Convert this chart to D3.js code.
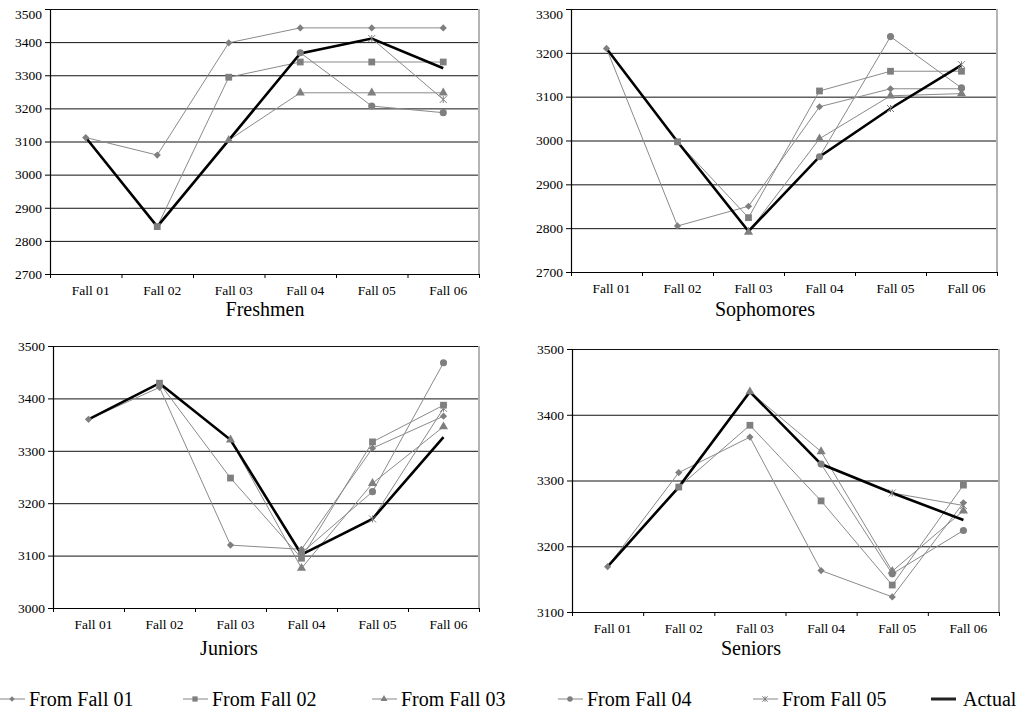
<!DOCTYPE html>
<html>
<head>
<meta charset="utf-8">
<script src="https://cdn.jsdelivr.net/npm/d3@7"></script>
<style>
  html, body { margin: 0; padding: 0; background: #fff; }
  svg { display: block; }
  svg text { font-family: "Liberation Serif", "Times New Roman", serif; }
</style>
</head>
<body>
<svg id="chart" width="1026" height="715"></svg>
<script>
// ---- data ----------------------------------------------------------------
const categories = ["Fall 01", "Fall 02", "Fall 03", "Fall 04", "Fall 05", "Fall 06"];
const seriesNames = ["From Fall 01", "From Fall 02", "From Fall 03", "From Fall 04", "From Fall 05", "Actual"];

// Freshmen
const freshmenTicks = [2700, 2800, 2900, 3000, 3100, 3200, 3300, 3400, 3500];
const freshmenActual = [3112, 2843, 3104, 3366, 3411, 3321];
const freshmenFrom = [
  [3112, 3059, 3398, 3443, 3443, 3443],
  [null, 2843, 3294, 3340, 3340, 3340],
  [null, null, 3104, 3247, 3247, 3247],
  [null, null, null, 3368, 3207, 3187],
  [null, null, null, null, 3411, 3227]
];

// Sophomores
const sophomoresTicks = [2700, 2800, 2900, 3000, 3100, 3200, 3300];
const sophomoresActual = [3210, 2997, 2793, 2963, 3073, 3172];
const sophomoresFrom = [
  [3210, 2805, 2850, 3077, 3118, 3118],
  [null, 2997, 2824, 3113, 3158, 3158],
  [null, null, 2791, 3004, 3102, 3107],
  [null, null, null, 2963, 3237, 3120],
  [null, null, null, null, 3073, 3173]
];

// Juniors
const juniorsTicks = [3000, 3100, 3200, 3300, 3400, 3500];
const juniorsActual = [3360, 3429, 3321, 3102, 3170, 3326];
const juniorsFrom = [
  [3360, 3421, 3120, 3112, 3305, 3366],
  [null, 3429, 3248, 3095, 3317, 3387],
  [null, null, 3321, 3076, 3238, 3346],
  [null, null, null, 3105, 3222, 3468],
  [null, null, null, null, 3170, 3381]
];

// Seniors
const seniorsTicks = [3100, 3200, 3300, 3400, 3500];
const seniorsActual = [3169, 3290, 3435, 3325, 3281, 3240];
const seniorsFrom = [
  [3169, 3312, 3366, 3163, 3123, 3266],
  [null, 3290, 3384, 3269, 3141, 3293],
  [null, null, 3435, 3344, 3162, 3254],
  [null, null, null, 3325, 3158, 3224],
  [null, null, null, null, 3281, 3262]
];

// ---- layout ----------------------------------------------------------------
const panels = [
  { title: "Freshmen",   ticks: freshmenTicks,   actual: freshmenActual,   from: freshmenFrom,
    x0: 50,  x1: 479, y0: 9,   y1: 274, tx: 265, ty: 316 },
  { title: "Sophomores", ticks: sophomoresTicks, actual: sophomoresActual, from: sophomoresFrom,
    x0: 571, x1: 997, y0: 9,   y1: 272, tx: 765, ty: 316 },
  { title: "Juniors",    ticks: juniorsTicks,    actual: juniorsActual,    from: juniorsFrom,
    x0: 53,  x1: 479, y0: 346, y1: 608, tx: 229, ty: 655 },
  { title: "Seniors",    ticks: seniorsTicks,    actual: seniorsActual,    from: seniorsFrom,
    x0: 572, x1: 999, y0: 349, y1: 612, tx: 751, ty: 655 }
];

const SERIF = "'Liberation Serif', 'Times New Roman', serif";
const GRAY_LINE = "#8a8a8a";
const GRAY_MARK = "#7f7f7f";

// marker shapes for the five projection series
const asteriskType = {
  draw(ctx, size) {
    const r = Math.sqrt(size) / 2;
    ctx.moveTo(-r, -r); ctx.lineTo(r, r);
    ctx.moveTo(-r, r);  ctx.lineTo(r, -r);
    ctx.moveTo(0, -r);  ctx.lineTo(0, r);
  }
};
const markers = [
  { type: d3.symbolSquare,   size: 26, rotate: 45, stroked: false },
  { type: d3.symbolSquare,   size: 46, rotate: 0,  stroked: false },
  { type: d3.symbolTriangle, size: 36, rotate: 0,  stroked: false },
  { type: d3.symbolCircle,   size: 40, rotate: 0,  stroked: false },
  { type: asteriskType,      size: 49, rotate: 0,  stroked: true }
];

function drawMarker(g, m, cx, cy, scale) {
  const p = d3.symbol().type(m.type).size(m.size * (scale || 1))();
  const el = g.append("path")
    .attr("d", p)
    .attr("transform", `translate(${cx},${cy}) rotate(${m.rotate})`);
  if (m.stroked) {
    el.attr("fill", "none").attr("stroke", GRAY_MARK).attr("stroke-width", 1);
  } else {
    el.attr("fill", GRAY_MARK).attr("stroke", "none");
  }
}

const svg = d3.select("#chart");
svg.append("rect").attr("width", 1026).attr("height", 715).attr("fill", "#fff");

panels.forEach(p => {
  const g = svg.append("g");
  const x = d3.scaleBand().domain(categories).range([p.x0, p.x1]).padding(0);
  const xEdge = d3.scaleLinear().domain([0, categories.length]).range([p.x0, p.x1]);
  const y = d3.scaleLinear().domain(d3.extent(p.ticks)).range([p.y1, p.y0]);
  const cx = c => x(c) + x.bandwidth() / 2;

  // horizontal gridlines
  const grid = g.append("g")
    .attr("transform", `translate(${p.x0},0)`)
    .call(d3.axisLeft(y).tickValues(p.ticks.slice(1)).tickSize(-(p.x1 - p.x0)).tickFormat(""));
  grid.select(".domain").remove();
  grid.selectAll("line").attr("stroke", "#111").attr("stroke-width", 1);

  // right border of the plot area
  g.append("line")
    .attr("x1", p.x1).attr("x2", p.x1).attr("y1", p.y0).attr("y2", p.y1)
    .attr("stroke", "#b4b4b4").attr("stroke-width", 2);

  // y axis
  const ya = g.append("g")
    .attr("transform", `translate(${p.x0},0)`)
    .call(d3.axisLeft(y).tickValues(p.ticks).tickSize(5).tickSizeOuter(0).tickPadding(3).tickFormat(d3.format("d")));
  ya.attr("font-family", null).attr("font-size", null);
  ya.select(".domain").attr("stroke", "#000").attr("stroke-width", 1.2);
  ya.selectAll("line").attr("stroke", "#000");
  ya.selectAll("text")
    .style("font-family", SERIF)
    .style("font-size", "13.5px").attr("fill", "#000")
    .attr("y", function(d) { return Math.max(0, 14 - y(d)); });

  // x axis line with boundary ticks
  const xa = g.append("g")
    .attr("transform", `translate(0,${p.y1})`)
    .call(d3.axisBottom(xEdge).tickValues(d3.range(categories.length + 1)).tickSize(4).tickSizeOuter(0).tickFormat(""));
  xa.select(".domain").attr("stroke", "#000").attr("stroke-width", 1.2);
  xa.selectAll("line").attr("stroke", "#000");

  // category labels
  const xl = g.append("g")
    .attr("transform", `translate(5,${p.y1})`)
    .call(d3.axisBottom(x).tickSize(0).tickPadding(11));
  xl.attr("font-family", null).attr("font-size", null);
  xl.select(".domain").remove();
  xl.selectAll("text")
    .style("font-family", SERIF)
    .style("font-size", "13.5px").attr("fill", "#000");

  // projection series
  const line = d3.line()
    .defined(d => d != null)
    .x((d, i) => cx(categories[i]))
    .y(d => y(d));

  p.from.forEach(vals => {
    g.append("path")
      .attr("d", line(vals))
      .attr("fill", "none")
      .attr("stroke", GRAY_LINE)
      .attr("stroke-width", 1);
  });

  // actual enrollment
  g.append("path")
    .attr("d", line(p.actual))
    .attr("fill", "none")
    .attr("stroke", "#000")
    .attr("stroke-width", 2.6)
    .attr("stroke-linejoin", "miter");

  p.from.forEach((vals, si) => {
    vals.forEach((v, i) => {
      if (v != null) drawMarker(g, markers[si], cx(categories[i]), y(v));
    });
  });

  // panel title
  g.append("text")
    .attr("x", p.tx).attr("y", p.ty)
    .attr("text-anchor", "middle")
    .style("font-family", SERIF)
    .style("font-size", "20px")
    .attr("fill", "#000")
    .text(p.title);
});

// ---- legend -------------------------------------------------------------
const legendX = [0, 183, 372, 558, 753, 931];
const legendY = 699;
const lg = svg.append("g");
seriesNames.forEach((name, i) => {
  const lx = legendX[i];
  const isActual = i === seriesNames.length - 1;
  lg.append("line")
    .attr("x1", lx).attr("x2", lx + 25)
    .attr("y1", legendY).attr("y2", legendY)
    .attr("stroke", isActual ? "#222" : "#999")
    .attr("stroke-width", isActual ? 3 : 1.2);
  if (!isActual) drawMarker(lg, markers[i], lx + 12, legendY, 0.6);
  lg.append("text")
    .attr("x", lx + (isActual ? 32 : 29)).attr("y", legendY + 7)
    .style("font-family", SERIF)
    .style("font-size", "20px")
    .attr("fill", "#000")
    .text(name);
});
</script>
</body>
</html>
